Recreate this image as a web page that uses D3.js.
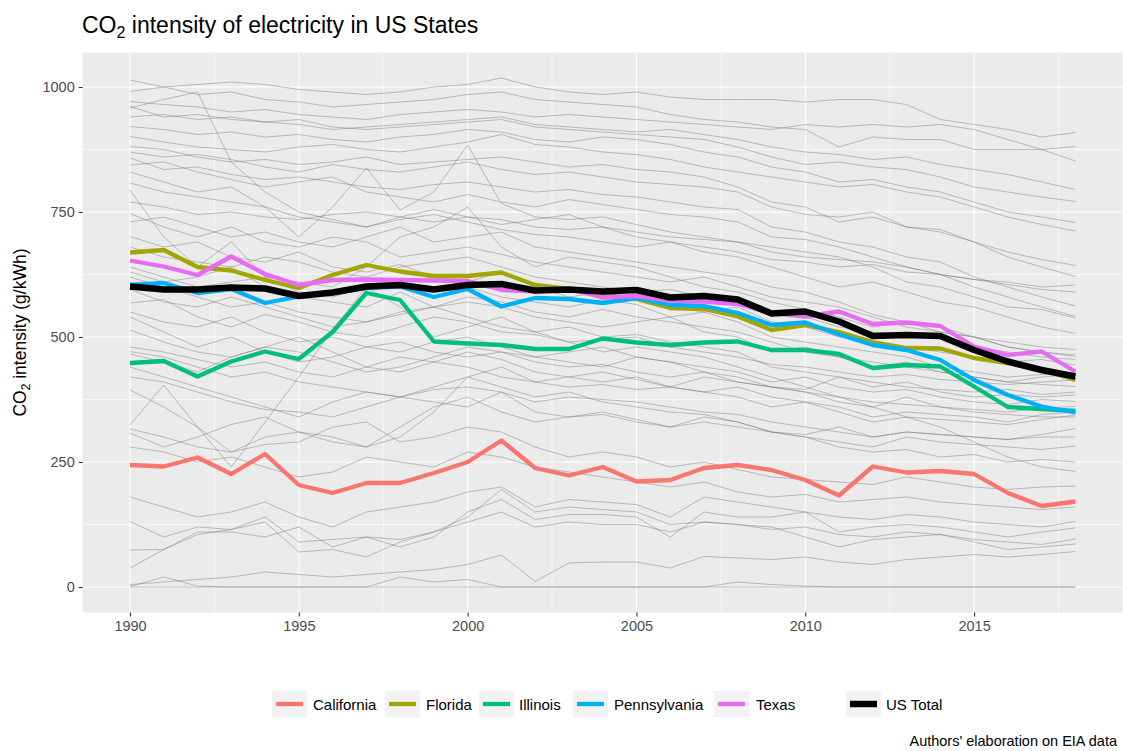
<!DOCTYPE html>
<html>
<head>
<meta charset="utf-8">
<script src="https://cdn.jsdelivr.net/npm/d3@7"></script>
<style>
body { margin: 0; background: #fff; }
text { font-family: "Liberation Sans", Arial, sans-serif; }
</style>
</head>
<body>
<svg id="chart" width="1127" height="751"></svg>
<script>
// years on the x axis
const years = [1990,1991,1992,1993,1994,1995,1996,1997,1998,1999,2000,2001,2002,2003,2004,
               2005,2006,2007,2008,2009,2010,2011,2012,2013,2014,2015,2016,2017,2018];

// highlighted series (g/kWh)
const california   = [244,241,259,226,266,204,188,208,208,228,250,293,238,223,240,211,214,238,244,234,214,183,241,229,232,226,188,162,171];
const florida      = [669,674,640,633,614,598,624,644,631,622,622,629,604,596,584,576,558,556,541,514,524,510,490,478,477,458,448,434,414];
const illinois     = [448,452,421,451,471,456,510,588,574,491,487,484,476,476,497,489,484,489,491,474,474,466,438,444,441,401,360,356,352];
const pennsylvania = [604,608,588,596,568,581,588,598,601,580,596,561,578,576,568,578,564,562,548,524,529,505,484,474,454,414,384,361,349];
const texas        = [653,641,624,661,626,604,614,615,614,613,612,594,591,596,579,582,573,571,566,548,541,551,526,529,522,481,464,471,431];
const usTotal      = [601,595,595,599,597,582,589,601,604,595,604,606,593,595,591,594,579,582,575,547,551,531,502,504,502,474,451,434,421];

const highlightNames  = ["California","Florida","Illinois","Pennsylvania","Texas"];
const highlightColors = ["#F8766D","#A3A500","#00BF7D","#00B0F6","#E76BF3"];
const highlightSeries = [california, florida, illinois, pennsylvania, texas];

// all the other states, drawn in grey
const otherStates = [
  [1014,1000,1005,1010,1005,995,990,985,990,1000,1005,1018,1000,990,985,990,980,975,975,975,970,975,975,965,935,925,915,900,909],
  [991,1000,985,990,975,970,960,965,970,975,985,990,975,970,965,960,945,935,930,920,915,880,900,895,895,875,875,875,881],
  [971,965,960,950,955,945,940,935,945,950,955,950,940,945,940,935,930,925,920,915,925,920,925,920,925,915,895,875,852],
  [961,940,945,935,930,925,915,920,925,930,935,940,925,920,915,910,915,905,895,880,870,865,855,860,845,835,825,810,795],
  [958,975,990,850,790,750,735,720,740,755,740,725,735,745,720,700,690,680,670,655,650,640,645,630,625,615,610,600,604],
  [940,945,935,940,930,935,920,915,920,925,930,935,920,915,910,905,900,895,880,860,845,850,840,835,820,800,790,780,771],
  [921,915,905,910,900,905,895,890,900,905,915,910,895,890,900,895,885,870,860,840,830,810,815,800,790,770,750,740,729],
  [901,890,880,875,870,880,885,875,870,880,890,905,885,880,870,865,855,840,830,820,810,800,805,790,780,760,740,725,712],
  [881,875,860,850,855,845,850,860,845,850,855,860,850,840,845,835,830,820,800,770,760,730,740,720,710,690,670,655,643],
  [870,860,865,855,840,830,845,835,830,840,850,835,825,830,820,810,805,800,790,760,745,740,750,720,715,690,660,640,621],
  [858,835,840,825,815,820,810,800,795,805,810,800,790,795,785,780,770,760,755,720,710,690,680,660,650,620,600,580,562],
  [844,850,830,815,800,810,820,790,780,770,785,770,760,775,765,755,745,740,730,700,695,680,660,640,625,600,580,560,541],
  [830,810,790,800,760,700,760,838,754,790,884,767,740,735,740,725,710,700,690,680,670,660,640,610,600,580,560,555,538],
  [808,790,780,770,760,740,730,720,735,745,730,715,705,700,690,680,690,670,660,640,620,600,610,590,570,560,540,520,507],
  [794,700,640,690,620,610,600,640,700,720,760,680,640,660,650,640,620,600,590,570,555,540,520,530,510,500,480,470,461],
  [770,760,745,750,740,735,745,750,740,730,740,735,720,715,720,710,700,695,690,670,660,655,650,640,625,615,605,595,590],
  [747,720,700,720,690,680,700,690,660,670,680,665,650,640,630,620,610,620,600,580,570,560,540,520,510,500,490,480,475],
  [730,740,720,700,710,690,680,700,720,690,700,710,680,670,660,650,640,630,620,600,590,570,545,530,520,500,480,470,464],
  [701,680,690,660,650,670,640,630,645,620,610,630,600,580,590,575,560,550,560,530,520,500,490,480,470,460,450,455,444],
  [680,660,650,640,660,650,630,620,640,650,660,640,620,610,600,590,595,580,570,550,540,520,510,505,500,480,470,460,455],
  [640,620,600,610,620,590,580,600,610,620,600,580,570,560,575,565,540,550,530,500,490,480,470,460,440,430,420,425,430],
  [630,610,620,640,600,580,570,560,590,560,580,570,550,540,555,540,530,520,510,490,470,460,450,440,430,420,410,405,401],
  [620,600,580,560,570,550,540,530,545,560,540,520,510,520,500,505,490,480,470,440,430,420,400,410,390,380,385,380,384],
  [595,570,560,580,560,540,520,530,550,560,570,560,540,530,520,530,540,510,500,470,480,460,440,450,430,420,410,420,425],
  [568,575,540,520,545,530,510,500,520,540,530,510,505,490,495,500,480,470,460,445,440,430,420,425,415,410,405,410,414],
  [550,530,520,540,510,490,500,480,470,490,500,480,460,470,480,460,450,440,430,410,420,400,390,395,380,370,365,375,371],
  [540,510,480,500,470,450,460,480,490,470,460,470,450,440,445,430,420,430,410,400,390,380,370,365,360,355,350,358,361],
  [514,490,470,460,480,500,470,440,430,450,440,420,410,420,430,415,400,390,400,380,370,360,340,350,345,340,330,345,350],
  [480,470,455,440,450,430,420,440,460,450,470,455,430,420,410,420,400,390,380,360,370,350,330,340,335,330,325,335,344],
  [471,460,440,420,430,410,400,390,380,395,400,390,370,380,375,370,360,350,345,330,320,310,300,310,305,300,295,305,317],
  [466,450,430,460,480,470,450,430,440,460,480,470,460,450,440,460,450,430,420,400,390,370,360,380,360,350,345,340,340],
  [440,420,400,380,360,340,370,390,380,400,420,440,410,400,405,395,400,420,410,400,395,420,410,400,395,390,395,385,390],
  [420,410,390,370,355,350,340,360,380,370,360,390,350,340,345,330,320,340,330,310,300,290,280,300,290,285,280,275,282],
  [394,360,320,240,330,420,515,600,560,500,520,540,510,490,470,480,470,460,440,420,400,380,360,340,320,290,260,240,231],
  [324,404,320,270,300,310,300,280,320,360,380,350,330,340,350,335,320,330,320,310,305,320,300,310,305,300,295,300,300],
  [316,300,280,270,285,290,320,330,290,300,320,310,280,260,270,260,240,250,235,220,215,210,205,220,210,200,195,200,202],
  [308,280,300,325,340,310,290,280,300,350,420,400,380,390,370,360,350,345,330,310,300,280,270,275,260,265,250,255,250],
  [280,270,250,260,240,220,230,260,250,240,270,260,240,230,220,210,200,210,190,180,185,170,175,180,170,165,160,155,160],
  [180,160,140,150,170,140,120,150,160,170,190,200,160,175,170,165,140,180,170,160,150,140,135,145,140,130,125,120,131],
  [131,100,120,115,140,90,95,100,80,100,150,175,135,145,145,140,100,150,140,140,150,110,120,125,120,110,100,110,118],
  [74,75,110,110,100,120,80,100,95,110,130,150,120,130,125,125,110,130,125,115,120,105,100,110,105,95,90,85,96],
  [38,75,105,115,130,70,75,60,90,110,140,195,150,160,155,150,125,130,125,120,100,80,95,100,105,90,75,80,86],
  [5,10,15,20,30,25,20,25,30,35,45,64,11,48,50,50,38,61,58,55,60,50,45,55,60,65,60,65,71],
  [1,20,2,0,0,0,0,0,0,0,0,0,0,0,0,0,0,0,0,0,0,0,0,0,0,0,0,0,0],
  [0,0,0,0,0,0,0,0,20,10,15,0,0,0,0,0,0,0,10,5,2,0,0,0,0,0,0,0,0]
];

const xTicks = [1990,1995,2000,2005,2010,2015];
const yTicks = [0,250,500,750,1000];

const svg = d3.select("#chart");

const x = d3.scaleLinear().domain([1990, 2018]).range([130, 1075.4]);
const y = d3.scaleLinear().domain([0, 1000]).range([587, 87]);

// panel with ggplot-like expansion
const px0 = x(1988.6), px1 = x(2019.4);
const py0 = y(1069), py1 = y(-51);

svg.append("rect")
   .attr("x", px0).attr("y", py0)
   .attr("width", px1 - px0).attr("height", py1 - py0)
   .attr("fill", "#EBEBEB");

// minor grid
const xMinor = [1992.5,1997.5,2002.5,2007.5,2012.5,2017.5];
const yMinor = [125,375,625,875];
svg.append("g").selectAll("line").data(xMinor).enter().append("line")
   .attr("x1", d => x(d)).attr("x2", d => x(d)).attr("y1", py0).attr("y2", py1)
   .attr("stroke", "#fff").attr("stroke-width", 0.55);
svg.append("g").selectAll("line").data(yMinor).enter().append("line")
   .attr("y1", d => y(d)).attr("y2", d => y(d)).attr("x1", px0).attr("x2", px1)
   .attr("stroke", "#fff").attr("stroke-width", 0.55);

// major grid
svg.append("g").selectAll("line").data(xTicks).enter().append("line")
   .attr("x1", d => x(d)).attr("x2", d => x(d)).attr("y1", py0).attr("y2", py1)
   .attr("stroke", "#fff").attr("stroke-width", 1.1);
svg.append("g").selectAll("line").data(yTicks).enter().append("line")
   .attr("y1", d => y(d)).attr("y2", d => y(d)).attr("x1", px0).attr("x2", px1)
   .attr("stroke", "#fff").attr("stroke-width", 1.1);

const line = d3.line()
   .x((d, i) => x(years[i]))
   .y(d => y(d));

// grey background states
svg.append("g").selectAll("path").data(otherStates).enter().append("path")
   .attr("d", line)
   .attr("fill", "none")
   .attr("stroke", "#6e6e6e")
   .attr("stroke-opacity", 0.6)
   .attr("stroke-width", 0.7);

// highlighted states
svg.append("g").selectAll("path").data(highlightSeries).enter().append("path")
   .attr("d", line)
   .attr("fill", "none")
   .attr("stroke", (d, i) => highlightColors[i])
   .attr("stroke-width", 4.3)
   .attr("stroke-linejoin", "round");

// US total
svg.append("path")
   .datum(usTotal)
   .attr("d", line)
   .attr("fill", "none")
   .attr("stroke", "#000")
   .attr("stroke-width", 6.5)
   .attr("stroke-linejoin", "round");

// axes
const xAxis = svg.append("g")
   .attr("transform", `translate(0,${py1})`)
   .call(d3.axisBottom(x).tickValues(xTicks).tickFormat(d3.format("d")).tickSize(4).tickPadding(4));
const yAxis = svg.append("g")
   .attr("transform", `translate(${px0},0)`)
   .call(d3.axisLeft(y).tickValues(yTicks).tickFormat(d3.format("d")).tickSize(4).tickPadding(4));
[xAxis, yAxis].forEach(g => {
  g.select(".domain").remove();
  g.selectAll(".tick line").attr("stroke", "#333").attr("stroke-width", 1.1);
  g.selectAll(".tick text").attr("fill", "#4D4D4D").style("font-size", "14.5px")
   .style("font-family", "'Liberation Sans', Arial, sans-serif");
});

// title
const title = svg.append("text")
   .attr("x", 82).attr("y", 33)
   .style("font-size", "23px").attr("fill", "#000");
title.append("tspan").text("CO");
title.append("tspan").text("2").attr("dy", 5).style("font-size", "16px");
title.append("tspan").text(" intensity of electricity in US States").attr("dy", -5);

// y title
const ytitle = svg.append("text")
   .attr("transform", `translate(26,${(py0 + py1) / 2}) rotate(-90)`)
   .attr("text-anchor", "middle")
   .style("font-size", "17.5px").attr("fill", "#000");
ytitle.append("tspan").text("CO");
ytitle.append("tspan").text("2").attr("dy", 4).style("font-size", "12px");
ytitle.append("tspan").text(" intensity (g/kWh)").attr("dy", -4);

// legend
const legendItems = [
  {name: "California",   color: "#F8766D", keyX: 272, textX: 313, w: 4.3},
  {name: "Florida",      color: "#A3A500", keyX: 385, textX: 426, w: 4.3},
  {name: "Illinois",     color: "#00BF7D", keyX: 479, textX: 519, w: 4.3},
  {name: "Pennsylvania", color: "#00B0F6", keyX: 573, textX: 614, w: 4.3},
  {name: "Texas",        color: "#E76BF3", keyX: 714, textX: 756, w: 4.3},
  {name: "US Total",     color: "#000",    keyX: 846, textX: 886, w: 6.5}
];
const legend = svg.append("g");
const keyW = 35, keyH = 26, keyY = 691;
legendItems.forEach(d => {
  legend.append("rect")
     .attr("x", d.keyX).attr("y", keyY).attr("width", keyW).attr("height", keyH)
     .attr("fill", "#F2F2F2");
  legend.append("line")
     .attr("x1", d.keyX + 4).attr("x2", d.keyX + keyW - 4)
     .attr("y1", keyY + keyH / 2).attr("y2", keyY + keyH / 2)
     .attr("stroke", d.color).attr("stroke-width", d.w);
  legend.append("text")
     .attr("x", d.textX).attr("y", keyY + keyH / 2 + 5.5)
     .style("font-size", "15px").attr("fill", "#000")
     .text(d.name);
});

// caption
svg.append("text")
   .attr("x", 1117).attr("y", 746)
   .attr("text-anchor", "end")
   .style("font-size", "14.5px").attr("fill", "#000")
   .text("Authors' elaboration on EIA data");
</script>
</body>
</html>
